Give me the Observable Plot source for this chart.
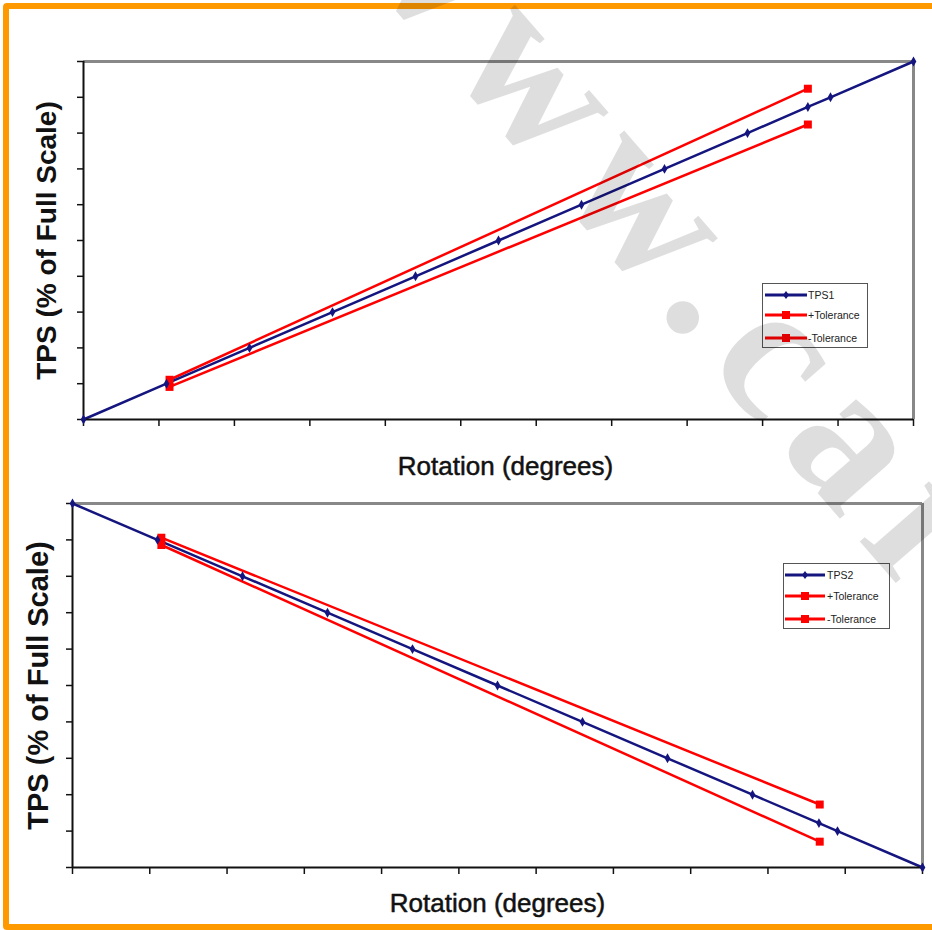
<!DOCTYPE html>
<html>
<head>
<meta charset="utf-8">
<script src="https://cdn.jsdelivr.net/npm/d3@7"></script>
<script src="https://cdn.jsdelivr.net/npm/@observablehq/plot@0.6"></script>
<style>
  html, body { margin: 0; padding: 0; background: #fff; }
  #page { position: relative; width: 932px; height: 930px; overflow: hidden; background: #fff; font-family: "Liberation Sans", Arial, sans-serif; }
  #border { position: absolute; left: 3px; top: 3px; width: 980px; height: 927px; box-sizing: border-box; border: 6px solid #ff9900; border-radius: 4px; }
  .chart { position: absolute; left: 0; }
  .legend { position: absolute; border: 1px solid #555; background: #fff; box-sizing: border-box; }
  .legend .row { position: absolute; left: 0; height: 14px; display: flex; align-items: center; font-size: 10.5px; color: #222; white-space: nowrap; }
  .legend svg { display: block; }
  #wm { position: absolute; left: 0; top: 0; pointer-events: none; }
</style>
</head>
<body>
<div id="page">
  <div id="border"></div>
  <div id="top" class="chart" style="top:0px"></div>
  <div id="bottom" class="chart" style="top:460px"></div>
</div>
<script>
// ---- data ----
const xTicks = [0, 10, 20, 30, 40, 50, 60, 70, 80, 90, 100, 110];
const yTicks = [0, 10, 20, 30, 40, 50, 60, 70, 80, 90, 100];

const tps1X = [0, 11, 22, 33, 44, 55, 66, 77, 88, 96, 99, 110];
const tps1Y = [0, 10, 20, 30, 40, 50, 60, 70, 80, 87.3, 90, 100];
const tol1X = [11.4, 96];
const tol1PlusY = [11.1, 92.4];
const tol1MinusY = [9.1, 82.4];

const tps2X = [0, 11, 22, 33, 44, 55, 66, 77, 88, 96.6, 99, 110];
const tps2Y = [100, 90, 80, 70, 60, 50, 40, 30, 20, 12.2, 10, 0];
const tol2X = [11.5, 96.7];
const tol2PlusY = [90.6, 17.3];
const tol2MinusY = [88.6, 7.1];

const xTitle = "Rotation (degrees)";
const yTitle = "TPS (% of Full Scale)";
const legend1 = ["TPS1", "+Tolerance", "-Tolerance"];
const legend2 = ["TPS2", "+Tolerance", "-Tolerance"];
const watermark = "www.cars";

const NAVY = "#15157f";
const RED = "#ff0000";

const zip = (xs, ys) => xs.map((x, i) => ({x, y: ys[i]}));

function chart({tpsX, tpsY, tolX, plusY, minusY, width, height, mL, mR, mT, mB, xLabelDy, xLabelDx, yLabelDx, yFont}) {
  const tps = zip(tpsX, tpsY);
  const plus = zip(tolX, plusY);
  const minus = zip(tolX, minusY);
  return Plot.plot({
    width, height,
    marginLeft: mL, marginRight: mR, marginTop: mT, marginBottom: mB,
    style: {background: "transparent", overflow: "visible", fontFamily: "Liberation Sans, Arial, sans-serif"},
    x: {domain: [0, 110], label: null},
    y: {domain: [0, 100], label: null},
    marks: [
      Plot.ruleY([100], {stroke: "#888", strokeWidth: 3}),
      Plot.ruleX([110], {stroke: "#888", strokeWidth: 3}),
      Plot.line(plus, {x: "x", y: "y", stroke: RED, strokeWidth: 2.5}),
      Plot.line(minus, {x: "x", y: "y", stroke: RED, strokeWidth: 2.5}),
      Plot.line(tps, {x: "x", y: "y", stroke: NAVY, strokeWidth: 2.5}),
      Plot.axisX(xTicks, {tickSize: 7, tickFormat: () => "", stroke: "#111", strokeWidth: 1.5, label: null}),
      Plot.axisY(yTicks, {tickSize: 6, tickFormat: () => "", stroke: "#111", strokeWidth: 1.5, label: null}),
      Plot.ruleY([0], {stroke: "#111", strokeWidth: 2}),
      Plot.ruleX([0], {stroke: "#111", strokeWidth: 2}),
      Plot.dot(plus, {x: "x", y: "y", symbol: "square", r: 4.5, fill: RED}),
      Plot.dot(minus, {x: "x", y: "y", symbol: "square", r: 4.5, fill: RED}),
      Plot.dot(tps, {x: "x", y: "y", symbol: "diamond", r: 3, fill: NAVY}),
      Plot.text([xTitle], {frameAnchor: "bottom", textAnchor: "middle", dy: xLabelDy, dx: xLabelDx, fontSize: 26, fill: "#111", stroke: "#111", strokeWidth: 0.5, text: d => d}),
      Plot.text([yTitle], {frameAnchor: "left", textAnchor: "middle", dx: yLabelDx, rotate: -90, fontSize: yFont, fontWeight: "bold", fill: "#111", text: d => d})
    ]
  });
}

document.getElementById("top").appendChild(chart({
  tpsX: tps1X, tpsY: tps1Y, tolX: tol1X, plusY: tol1PlusY, minusY: tol1MinusY,
  width: 932, height: 480, mL: 83, mR: 19, mT: 61, mB: 61,
  xLabelDy: 55, xLabelDx: 7, yLabelDx: -36, yFont: 28
}));
document.getElementById("bottom").appendChild(chart({
  tpsX: tps2X, tpsY: tps2Y, tolX: tol2X, plusY: tol2PlusY, minusY: tol2MinusY,
  width: 932, height: 470, mL: 72, mR: 10, mT: 43, mB: 63,
  xLabelDy: 44, xLabelDx: 0, yLabelDx: -34, yFont: 29
}));

// ---- legends ----
function makeLegend(names, left, top, w, h, rowYs, lineX0, lineX1, textX) {
  const box = document.createElement("div");
  box.className = "legend";
  Object.assign(box.style, {left: left + "px", top: top + "px", width: w + "px", height: h + "px"});
  names.forEach((name, i) => {
    const color = i === 0 ? NAVY : RED;
    const row = document.createElement("div");
    row.className = "row";
    row.style.top = (rowYs[i] - 7) + "px";
    const lw = lineX1 - lineX0;
    const marker = i === 0
      ? `<path d="M${lw / 2 + lineX0},3 l3,4 l-3,4 l-3,-4 z" fill="${color}"/>`
      : `<rect x="${lw / 2 + lineX0 - 4}" y="3" width="8" height="8" fill="${color}"/>`;
    row.innerHTML = `<svg width="${textX}" height="14"><line x1="${lineX0}" x2="${lineX1}" y1="7" y2="7" stroke="${color}" stroke-width="3"/>${marker}</svg><span>${name}</span>`;
    box.appendChild(row);
  });
  document.getElementById("page").appendChild(box);
}
makeLegend(legend1, 762, 283, 106, 65, [11, 31, 54], 2, 44, 45);
makeLegend(legend2, 783, 563, 107, 66, [11, 32, 55], 1, 41, 43);

// ---- watermark ----
const ns = "http://www.w3.org/2000/svg";
const wm = document.createElementNS(ns, "svg");
wm.setAttribute("id", "wm");
wm.setAttribute("width", 932);
wm.setAttribute("height", 930);
const t = document.createElementNS(ns, "text");
t.textContent = watermark;
t.setAttribute("transform", "translate(336,-61) rotate(49)");
t.setAttribute("font-family", "Liberation Serif, serif");
t.setAttribute("font-weight", "bold");
t.setAttribute("font-size", 200);
t.setAttribute("letter-spacing", 22);
t.setAttribute("fill", "#000");
t.setAttribute("fill-opacity", 0.13);
wm.appendChild(t);
document.getElementById("page").appendChild(wm);
</script>
</body>
</html>
